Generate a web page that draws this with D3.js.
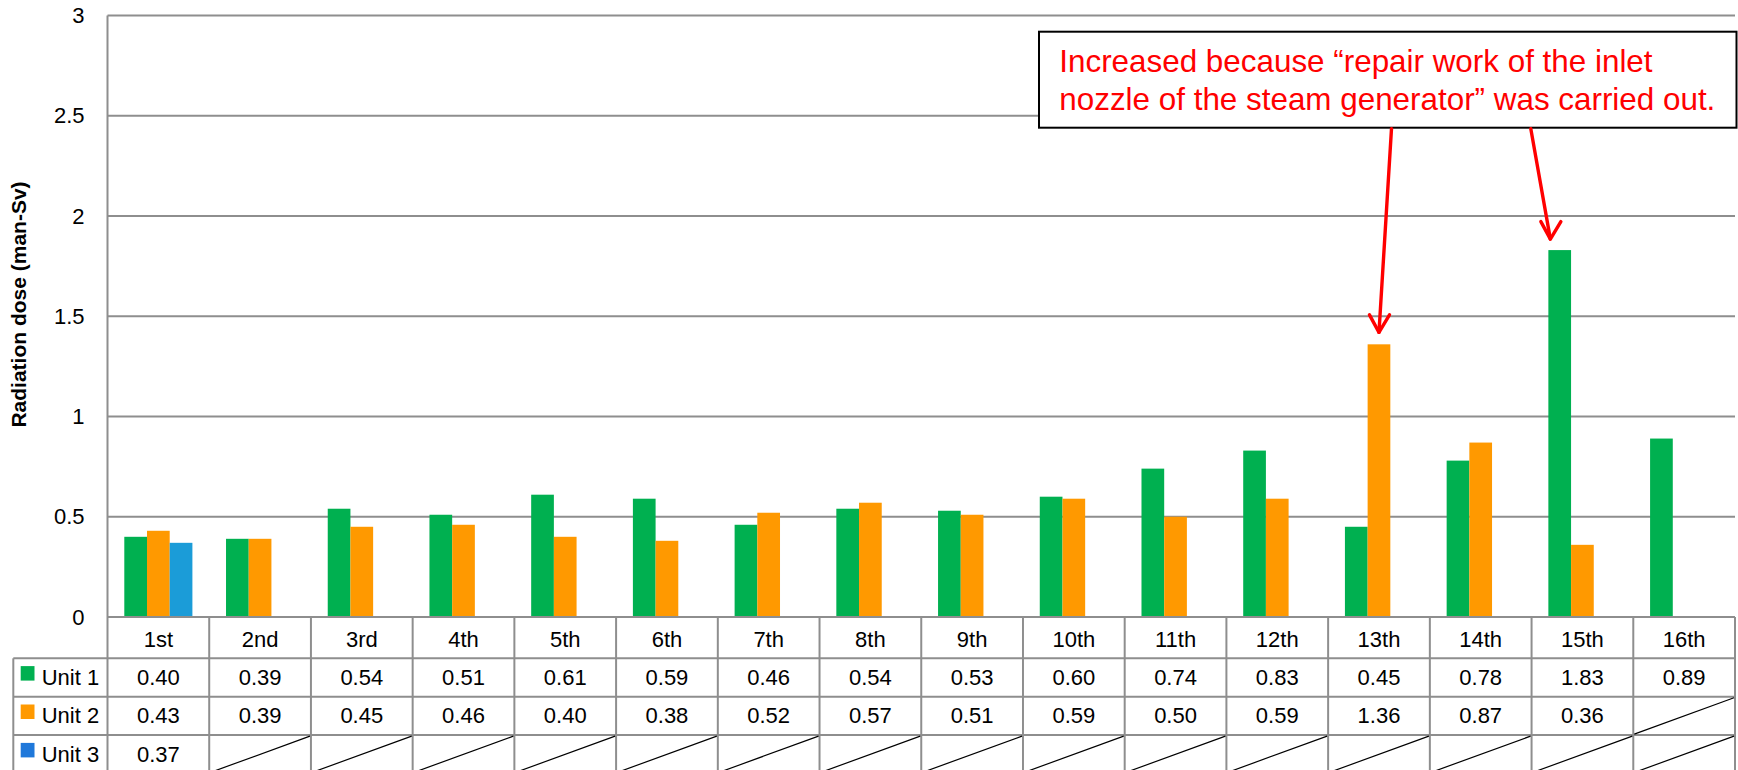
<!DOCTYPE html>
<html>
<head>
<meta charset="utf-8">
<script src="https://cdn.jsdelivr.net/npm/d3@7"></script>
<style>
  html, body { margin: 0; padding: 0; background: #fff; }
  svg { display: block; font-family: "Liberation Sans", Arial, sans-serif; }
</style>
</head>
<body>
<svg id="chart" width="1738" height="770"></svg>
<script>
// Outage periods (inspection rounds)
const categories = ["1st","2nd","3rd","4th","5th","6th","7th","8th","9th","10th","11th","12th","13th","14th","15th","16th"];
const seriesNames = ["Unit 1","Unit 2","Unit 3"];
// Collective radiation dose per outage (man-Sv); null = no outage
const unit1 = [0.40,0.39,0.54,0.51,0.61,0.59,0.46,0.54,0.53,0.60,0.74,0.83,0.45,0.78,1.83,0.89];
const unit2 = [0.43,0.39,0.45,0.46,0.40,0.38,0.52,0.57,0.51,0.59,0.50,0.59,1.36,0.87,0.36,null];
const unit3 = [0.37,null,null,null,null,null,null,null,null,null,null,null,null,null,null,null];
const yTicks = [0,0.5,1,1.5,2,2.5,3];
const barColors = ["#00B050","#FF9900","#1B9CD8"];
const legendColors = ["#00B050","#FF9900","#1F78DA"];
const yTitle = "Radiation dose (man-Sv)";
const noteLines = ["Increased because \u201crepair work of the inlet","nozzle of the steam generator\u201d was carried out."];

const seriesValues = [unit1, unit2, unit3];

const svg = d3.select("#chart");
const plotL = 107.5, plotR = 1735, plotT = 15.5, plotB = 617;
const headerB = 658.3, rowH = 38.4, legendL = 13.3;
const gridColor = "#8E8E8E";

const x = d3.scaleBand().domain(categories).range([plotL, plotR]).paddingInner(0).paddingOuter(0);
const xs = d3.scaleBand().domain(seriesNames).range([16.8, 84.9]).paddingInner(0);
const y = d3.scaleLinear().domain([0, 3]).range([plotB, plotT]);

// horizontal gridlines
svg.append("g").selectAll("line").data(yTicks).join("line")
  .attr("x1", plotL).attr("x2", plotR)
  .attr("y1", d => y(d)).attr("y2", d => y(d))
  .attr("stroke", gridColor).attr("stroke-width", 2);

// y axis labels
const yAxis = svg.append("g").attr("transform", `translate(${plotL},0)`)
  .call(d3.axisLeft(y).tickValues(yTicks).tickSize(0).tickPadding(23).tickFormat(d3.format("~g")));
yAxis.select(".domain").remove();
yAxis.selectAll("text").attr("font-size", 22).attr("fill", "#000")
  .attr("font-family", "'Liberation Sans', Arial, sans-serif");

// y axis title
svg.append("text")
  .attr("transform", "translate(26,304.5) rotate(-90)")
  .attr("text-anchor", "middle")
  .attr("font-size", 21).attr("font-weight", "bold").attr("fill", "#000")
  .text(yTitle);

// bars
const rows = [];
categories.forEach((c, i) => {
  seriesNames.forEach((s, j) => {
    const v = seriesValues[j][i];
    if (v != null) rows.push({c, s, j, v});
  });
});
svg.append("g").selectAll("rect").data(rows).join("rect")
  .attr("x", d => x(d.c) + xs(d.s))
  .attr("width", xs.bandwidth())
  .attr("y", d => y(d.v))
  .attr("height", d => y(0) - y(d.v))
  .attr("fill", d => barColors[d.j]);

// data table
const table = svg.append("g");
const rowTops = [headerB, headerB + rowH, headerB + 2 * rowH];
const tableB = headerB + 3 * rowH;
// vertical separators
const bounds = categories.map(c => x(c)).concat([plotR]);
table.selectAll("line.v").data(bounds).join("line")
  .attr("x1", d => d).attr("x2", d => d)
  .attr("y1", (d, i) => i === 0 ? plotT : plotB).attr("y2", tableB)
  .attr("stroke", gridColor).attr("stroke-width", 2);
table.append("line").attr("x1", legendL).attr("x2", legendL)
  .attr("y1", headerB).attr("y2", tableB)
  .attr("stroke", gridColor).attr("stroke-width", 2);
// horizontal separators
table.selectAll("line.h").data([headerB, headerB + rowH, headerB + 2 * rowH, tableB]).join("line")
  .attr("x1", legendL).attr("x2", plotR)
  .attr("y1", d => d).attr("y2", d => d)
  .attr("stroke", gridColor).attr("stroke-width", 2);
// category axis line
svg.append("line").attr("x1", plotL).attr("x2", plotR).attr("y1", plotB).attr("y2", plotB)
  .attr("stroke", gridColor).attr("stroke-width", 2);

// category labels
table.selectAll("text.cat").data(categories).join("text")
  .attr("x", d => x(d) + x.bandwidth() / 2)
  .attr("y", 647.3)
  .attr("text-anchor", "middle").attr("font-size", 22).attr("fill", "#000")
  .text(d => d);

// legend cells and values
seriesNames.forEach((s, j) => {
  const top = rowTops[j];
  table.append("rect").attr("x", 20.7).attr("y", top + 7.8).attr("width", 13.8).attr("height", 14.5)
    .attr("fill", legendColors[j]);
  table.append("text").attr("x", 41.7).attr("y", top + 26.7)
    .attr("font-size", 22).attr("fill", "#000").text(s);
  categories.forEach((c, i) => {
    const v = seriesValues[j][i];
    const x0 = x(c), x1 = x0 + x.bandwidth();
    if (v != null) {
      table.append("text").attr("x", (x0 + x1) / 2).attr("y", top + 26.7)
        .attr("text-anchor", "middle").attr("font-size", 22).attr("fill", "#000")
        .text(v.toFixed(2));
    } else {
      table.append("line").attr("x1", x0 + 1).attr("y1", top + rowH - 1)
        .attr("x2", x1 - 1).attr("y2", top + 1)
        .attr("stroke", "#000").attr("stroke-width", 1.2);
    }
  });
});

// callout box
const note = svg.append("g");
note.append("rect").attr("x", 1039).attr("y", 31.7).attr("width", 697.5).attr("height", 96)
  .attr("fill", "#fff").attr("stroke", "#000").attr("stroke-width", 2);
note.selectAll("text").data(noteLines).join("text")
  .attr("x", 1059.3).attr("y", (d, i) => 71.7 + i * 38.3)
  .attr("font-size", 31.4).attr("fill", "#FF0000").text(d => d);

// arrows from the callout to the two highlighted bars
const arrowTargets = [
  {x0: 1391.5, tx: x("13th") + xs("Unit 2") + xs.bandwidth() / 2, ty: y(unit2[12]) - 12},
  {x0: 1530.8, tx: x("15th") + xs("Unit 1") + 2, ty: y(unit1[14]) - 11}
];
arrowTargets.forEach(a => {
  const g = note.append("g").attr("stroke", "#FF0000").attr("stroke-width", 3.4)
    .attr("fill", "none").attr("stroke-linecap", "round").attr("stroke-linejoin", "round");
  g.append("line").attr("x1", a.x0).attr("y1", 128.7).attr("x2", a.tx).attr("y2", a.ty);
  g.append("path").attr("d", `M${a.tx - 9.5},${a.ty - 17.5} L${a.tx},${a.ty} L${a.tx + 10.5},${a.ty - 17.5}`);
});
</script>
</body>
</html>
